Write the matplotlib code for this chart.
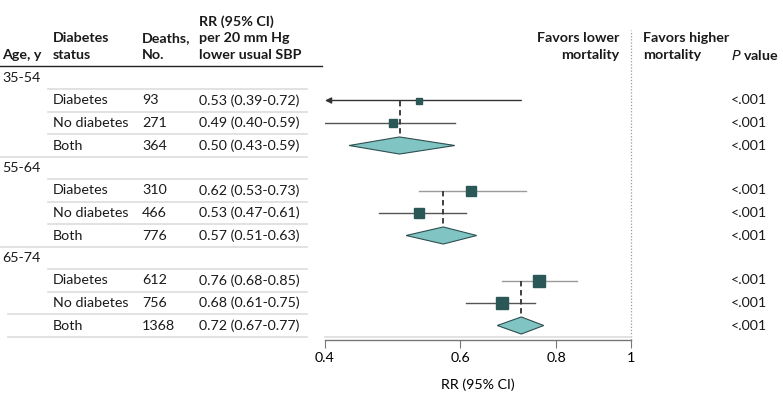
import matplotlib.pyplot as plt
import matplotlib.transforms as mtransforms
from matplotlib.patches import Polygon
import numpy as np

plt.rcParams["font.family"] = ["Lato", "DejaVu Sans"]

# Data
age_groups = ["35-54", "55-64", "65-74"]
statuses = ["Diabetes", "No diabetes", "Both"]
deaths = [[93, 271, 364], [310, 466, 776], [612, 756, 1368]]
rr = [[0.53, 0.49, 0.50], [0.62, 0.53, 0.57], [0.76, 0.68, 0.72]]
lo = [[0.39, 0.40, 0.43], [0.53, 0.47, 0.51], [0.68, 0.61, 0.67]]
hi = [[0.72, 0.59, 0.59], [0.73, 0.61, 0.63], [0.85, 0.75, 0.77]]
p_values = ["<.001"] * 9
x_ticks = [0.4, 0.6, 0.8, 1.0]
x_tick_labels = ["0.4", "0.6", "0.8", "1"]

W, H = 783, 404
fig = plt.figure(figsize=(W / 100, H / 100), dpi=100)

# row layout in pixels
ROW0, STEP = 78, 22.5
y_bot, y_top = (340 - ROW0) / STEP, (30 - ROW0) / STEP
ax = fig.add_axes([325 / W, 1 - 340 / H, (631 - 325) / W, (340 - 30) / H])
ax.set_xscale("log")
ax.set_xlim(0.4, 1.0)
ax.set_ylim(y_bot, y_top)

for s in ["top", "right", "left"]:
    ax.spines[s].set_visible(False)
ax.spines["bottom"].set_color("#777777")
ax.spines["bottom"].set_linewidth(1.0)
ax.set_yticks([])
ax.set_xticks(x_ticks)
ax.set_xticklabels(x_tick_labels)
ax.xaxis.set_minor_locator(plt.NullLocator())
ax.tick_params(axis="x", length=6, color="#777777", labelsize=10.3, pad=3)
ax.set_xlabel("RR (95% CI)", fontsize=10.3, labelpad=10)

# null line
ax.axvline(1.0, color="#999999", lw=0.9, ls=(0, (1, 1.5)), clip_on=False)

blend = mtransforms.blended_transform_factory(fig.transFigure, ax.transData)


def fx(px):
    return px / W


def hline(x0, x1, y, color="#dddddd", lw=1.2):
    ax.plot([fx(x0), fx(x1)], [y, y], color=color, lw=lw,
            transform=blend, clip_on=False)


fs = 10.3
txt_col = "#1a1a1a"
# header
head_y = [(22 - ROW0) / STEP, (38 - ROW0) / STEP, (55 - ROW0) / STEP]
hdr = dict(transform=blend, fontsize=fs, fontweight="bold", va="center", color=txt_col)
ax.text(fx(2), head_y[2], "Age, y", **hdr)
ax.text(fx(53), head_y[1], "Diabetes", **hdr)
ax.text(fx(53), head_y[2], "status", **hdr)
ax.text(fx(142), head_y[1], "Deaths,", **hdr)
ax.text(fx(142), head_y[2], "No.", **hdr)
ax.text(fx(199), head_y[0], "RR (95% CI)", **hdr)
ax.text(fx(199), head_y[1], "per 20 mm Hg", **hdr)
ax.text(fx(199), head_y[2], "lower usual SBP", **hdr)
ax.text(fx(619), head_y[1], "Favors lower", ha="right", **hdr)
ax.text(fx(619), head_y[2], "mortality", ha="right", **hdr)
ax.text(fx(643), head_y[1], "Favors higher", **hdr)
ax.text(fx(643), head_y[2], "mortality", **hdr)
ax.text(fx(731), head_y[2], r"$\mathbf{\mathit{P}}$ value", **hdr)

hline(0, 322, (66 - ROW0) / STEP, color="#222222", lw=1.0)

body = dict(transform=blend, fontsize=fs, va="center", color=txt_col)
sq_col = "#2b5757"
row = 0
k = 0
for g, age in enumerate(age_groups):
    ax.text(fx(2), row, age, **body)
    hline(48, 307, row + 0.5)
    first = row + 1
    for i, st in enumerate(statuses):
        r = row + 1 + i
        ax.text(fx(53), r, st, **body)
        ax.text(fx(142), r, str(deaths[g][i]), **body)
        ax.text(fx(199), r, f"{rr[g][i]:.2f} ({lo[g][i]:.2f}-{hi[g][i]:.2f})", **body)
        ax.text(fx(731), r, p_values[k], **body)
        k += 1
        # row separators
        if g == 2 and i > 0:
            hline(8, 307, r + 0.5)
        elif i == 2:
            hline(0, 307, r + 0.5)
        else:
            hline(48, 307, r + 0.5)
        if i < 2:
            ci_col = "#9a9a9a" if (i == 0 and g > 0) else "#555555"
            if lo[g][i] < 0.4:
                ax.annotate("", xy=(0.4, r), xytext=(hi[g][i], r),
                            arrowprops=dict(arrowstyle="-|>", color="#333333",
                                            lw=1.0, mutation_scale=9,
                                            shrinkA=0, shrinkB=0))
            else:
                ax.plot([lo[g][i], hi[g][i]], [r, r], color=ci_col, lw=1.0)
            side = 3 + 0.36 * np.sqrt(deaths[g][i])
            ax.plot(rr[g][i], r, marker="s", ms=side * 0.72, color=sq_col,
                    mec=sq_col, zorder=4)
        else:
            hh = 0.38
            poly = Polygon([[lo[g][i], r], [rr[g][i], r - hh], [hi[g][i], r],
                            [rr[g][i], r + hh]], closed=True, fc="#80c4c4",
                           ec="#2f4f4f", lw=0.8, zorder=3)
            ax.add_patch(poly)
            ax.plot([rr[g][i]] * 2, [first, r - hh], color="#333333", lw=1.3,
                    ls=(0, (3, 2)), zorder=2)
    row += 4

# light line above the axis
ax.plot([0.4, 1.0], [11.5, 11.5], color="#dddddd", lw=1.2, clip_on=False)

fig.savefig("out.png", dpi=100)
